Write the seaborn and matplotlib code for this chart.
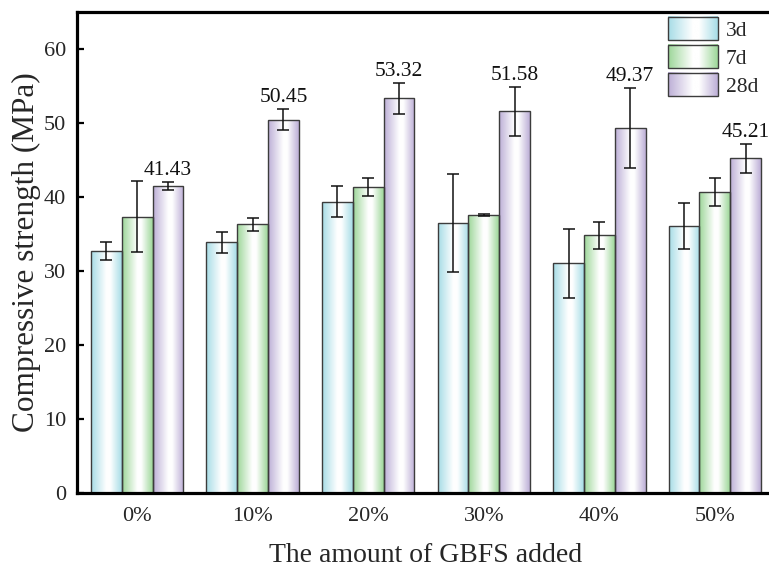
import numpy as np
import pandas as pd
import matplotlib
matplotlib.use("Agg")
import matplotlib.pyplot as plt
import seaborn as sns
from matplotlib.colors import LinearSegmentedColormap
from matplotlib.patches import Rectangle
from matplotlib.legend_handler import HandlerBase
from matplotlib.image import BboxImage
from matplotlib.transforms import Bbox, TransformedBbox

# ---------------- data ----------------
categories = ['0%', '10%', '20%', '30%', '40%', '50%']
ages = ['3d', '7d', '28d']
strength_3d = [32.74, 33.90, 39.37, 36.50, 31.04, 36.11]
strength_7d = [37.35, 36.32, 41.36, 37.55, 34.85, 40.68]
strength_28d = [41.43, 50.45, 53.32, 51.58, 49.37, 45.21]
err_3d = [1.23, 1.43, 2.10, 6.60, 4.70, 3.07]
err_7d = [4.75, 0.88, 1.16, 0.10, 1.83, 1.95]
err_28d = [0.55, 1.45, 2.10, 3.30, 5.40, 1.97]
label_28d = ['41.43', '50.45', '53.32', '51.58', '49.37', '45.21']
y_ticks = [0, 10, 20, 30, 40, 50, 60]

values = {'3d': strength_3d, '7d': strength_7d, '28d': strength_28d}
errors = {'3d': err_3d, '7d': err_7d, '28d': err_28d}
colors = {'3d': '#a6dce6', '7d': '#9cd698', '28d': '#bcaed6'}
EDGE = '#3c3c3c'

rows = []
for a in ages:
    for c, v in zip(categories, values[a]):
        rows.append({'cat': c, 'val': v, 'age': a})
df = pd.DataFrame(rows)

# ---------------- style ----------------
sns.set_theme(style='white')
plt.rcParams['font.family'] = ['Liberation Serif', 'DejaVu Serif']
plt.rcParams['mathtext.fontset'] = 'stix'

fig = plt.figure(figsize=(7.69, 5.69), dpi=100)
ax = fig.add_axes([77 / 769, 76 / 569, 698 / 769, 481 / 569])

sns.barplot(data=df, x='cat', y='val', hue='age', hue_order=ages,
            order=categories, palette=colors, errorbar=None, width=0.8,
            gap=0, edgecolor=EDGE, linewidth=1.0, legend=False, ax=ax,
            saturation=1)


def make_cmap(col):
    return LinearSegmentedColormap.from_list(
        'g', [(0.0, col), (0.5, '#ffffff'), (0.62, '#ffffff'), (1.0, col)])


grad = np.linspace(0, 1, 256).reshape(1, -1)

for a, cont in zip(ages, ax.containers):
    cmap = make_cmap(colors[a])
    xs, hs = [], []
    for p in cont.patches:
        x0 = p.get_x()
        w = p.get_width()
        h = p.get_height()
        p.set_facecolor('none')
        p.set_zorder(2)
        im = ax.imshow(grad, extent=[x0, x0 + w, 0, h], aspect='auto',
                       cmap=cmap, zorder=1.5, interpolation='bicubic')
        im.set_clip_path(p)
        xs.append(x0 + w / 2)
        hs.append(h)
    ax.errorbar(xs, hs, yerr=errors[a], fmt='none', ecolor='#111111',
                elinewidth=1.1, capsize=4, capthick=1.1, zorder=3)
    if a == '28d':
        for x, h, e, t in zip(xs, hs, errors[a], label_28d):
            ax.annotate(t, (x, h + e), xytext=(0, 1.5),
                        textcoords='offset points', ha='center',
                        va='bottom', fontsize=15.5, color='#111111')

ax.set_xlim(-0.52, 5.52)
ax.set_ylim(0, 65)
ax.set_yticks(y_ticks)
ax.set_yticklabels([str(t) for t in y_ticks])

ax.set_xlabel('The amount of GBFS added', fontsize=20, labelpad=12)
ax.set_ylabel('Compressive strength (MPa)', fontsize=22.5, labelpad=2)
ax.tick_params(axis='both', which='major', direction='in', length=5,
               width=1.6, labelsize=16, color='black',
               bottom=True, left=True, top=False, right=False)
ax.tick_params(axis='x', pad=10)
ax.tick_params(axis='y', pad=8)
for s in ax.spines.values():
    s.set_linewidth(2.3)
    s.set_color('black')


class GradHandler(HandlerBase):
    def __init__(self, cmap):
        super().__init__()
        self.cmap = cmap

    def create_artists(self, legend, orig_handle, xdescent, ydescent,
                       width, height, fontsize, trans):
        bb = Bbox.from_bounds(-xdescent, -ydescent, width, height)
        img = BboxImage(TransformedBbox(bb, trans), cmap=self.cmap,
                        interpolation='bicubic')
        img.set_data(grad)
        rect = Rectangle((-xdescent, -ydescent), width, height,
                         facecolor='none', edgecolor=EDGE, lw=1.0,
                         transform=trans)
        return [img, rect]


handles = [Rectangle((0, 0), 1, 1) for _ in ages]
hmap = {h: GradHandler(make_cmap(colors[a])) for h, a in zip(handles, ages)}
fig.legend(handles, ages, handler_map=hmap, loc='upper left',
           bbox_to_anchor=(668 / 769, 1 - 17 / 569), frameon=False,
           fontsize=15.5, handlelength=2.3, handleheight=1.3,
           labelspacing=0.18, handletextpad=0.38, borderpad=0,
           borderaxespad=0)

fig.savefig('out.png', dpi=100)
